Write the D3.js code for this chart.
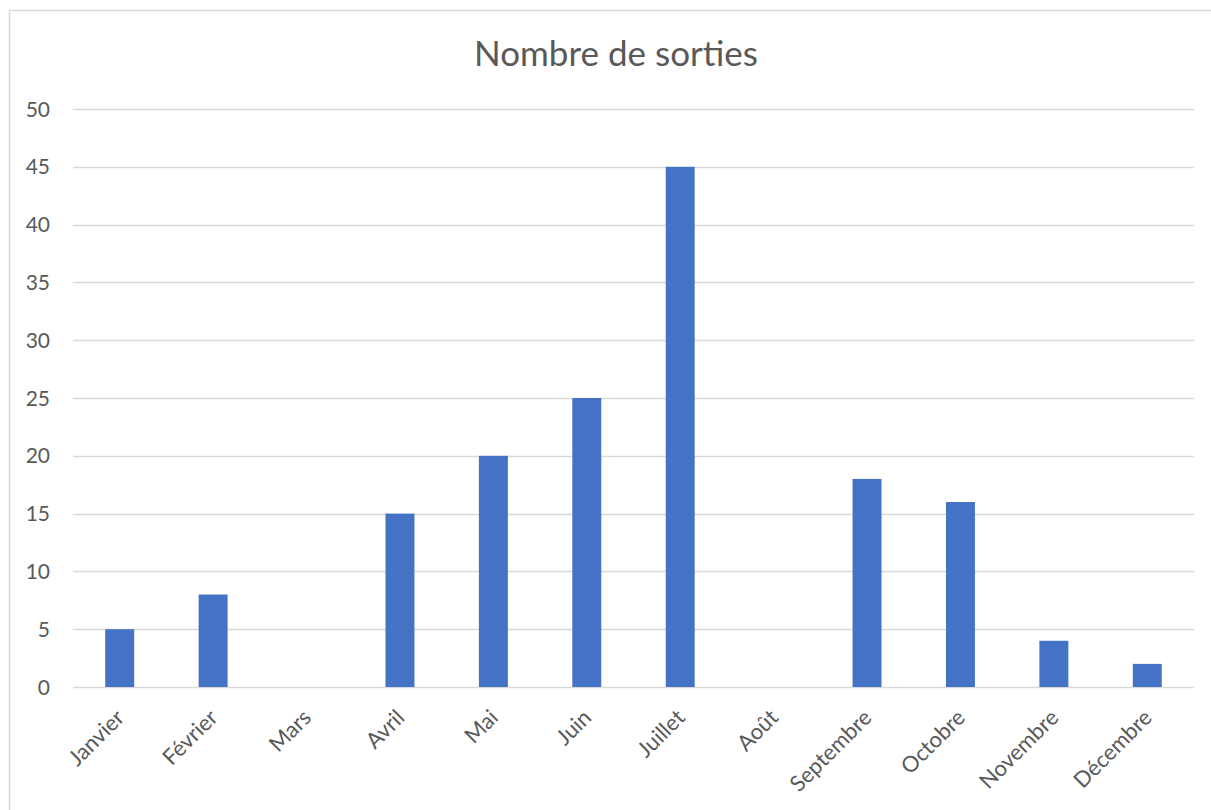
<!DOCTYPE html>
<html><head><meta charset="utf-8">
<script src="https://cdn.jsdelivr.net/npm/d3@7"></script>
<style>body{margin:0;background:#fff;} svg{display:block;font-family:Lato,"Open Sans",sans-serif;}</style>
</head><body>
<svg id="chart" width="1211" height="810"></svg>
<script>
const categories = ["Janvier","Février","Mars","Avril","Mai","Juin","Juillet","Août","Septembre","Octobre","Novembre","Décembre"];
const values = [5, 8, 0, 15, 20, 25, 45, 0, 18, 16, 4, 2];
const yTicks = [0,5,10,15,20,25,30,35,40,45,50];
const title = "Nombre de sorties";

const svg = d3.select("#chart");
const W = 1211, H = 810;
const m = {left: 73, right: 17, top: 109, bottom: 123};

svg.append("rect").attr("x", 9.5).attr("y", 10.5).attr("width", 1240).attr("height", 900)
  .attr("fill", "#fff").attr("stroke", "#d9d9d9").attr("stroke-width", 1.5);

const x = d3.scaleBand().domain(categories).range([m.left, W - m.right]).paddingInner(0.69).paddingOuter(0.345);
const y = d3.scaleLinear().domain([0, 50]).range([H - m.bottom, m.top]);

svg.append("g").selectAll("line").data(yTicks).join("line")
  .attr("x1", m.left).attr("x2", W - m.right)
  .attr("y1", d => Math.round(y(d)) + 0.5).attr("y2", d => Math.round(y(d)) + 0.5)
  .attr("stroke", "#d9d9d9").attr("stroke-width", 1.3);

svg.append("g").selectAll("rect").data(values).join("rect")
  .attr("x", (d, i) => x(categories[i])).attr("width", x.bandwidth())
  .attr("y", d => y(d)).attr("height", d => y(0) - y(d))
  .attr("fill", "#4472c4");

svg.append("g").selectAll("text").data(yTicks).join("text")
  .attr("x", 50).attr("y", d => y(d)).attr("dy", "0.36em")
  .attr("text-anchor", "end").attr("fill", "#595959").attr("font-size", 21)
  .text(d => d);

svg.append("g").selectAll("text").data(categories).join("text")
  .attr("transform", d => `translate(${x(d) + x.bandwidth()/2 + 6},${y(0) + 32}) rotate(-45)`)
  .attr("text-anchor", "end").attr("fill", "#595959").attr("font-size", 22)
  .text(d => d);

svg.append("text").attr("x", 616).attr("y", 66).attr("text-anchor", "middle")
  .attr("fill", "#595959").attr("font-size", 35).text(title);
</script>
</body></html>
